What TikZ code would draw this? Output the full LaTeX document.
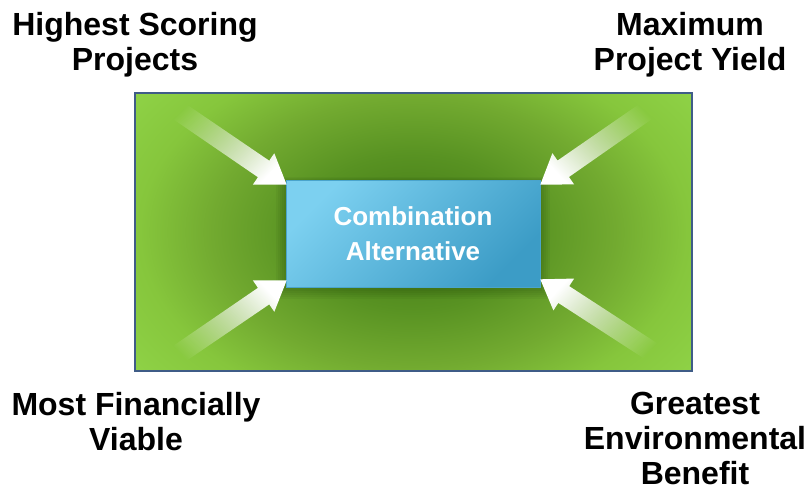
\documentclass[tikz,border=0pt]{standalone}
\usepackage{fontspec}
\setmainfont{Liberation Sans}
\usetikzlibrary{calc,fadings}
\definecolor{gA}{RGB}{66,120,22}
\definecolor{gB}{RGB}{88,146,34}
\definecolor{gC}{RGB}{114,170,48}
\definecolor{gD}{RGB}{134,198,60}
\definecolor{gE}{RGB}{144,212,72}
\definecolor{frameC}{RGB}{63,92,135}
\definecolor{boxL}{RGB}{124,208,240}
\definecolor{boxD}{RGB}{60,156,198}
\definecolor{boxE}{RGB}{74,164,204}
\definecolor{shadowC}{RGB}{20,50,5}
\pgfdeclareradialshading{bgshade}{\pgfpoint{0bp}{0bp}}{color(0bp)=(gA); color(8bp)=(gB); color(14bp)=(gC); color(19bp)=(gD); color(25bp)=(gE); color(50bp)=(gE)}
\tikzfading[name=arrowfade, left color=transparent!100, right color=transparent!0]
\pgfdeclarelayer{bg}
\pgfdeclarelayer{shadowlayer}
\pgfsetlayers{bg,shadowlayer,main}
\newcommand\fatarrow[3]{%
  \fill[white, path fading=arrowfade, fading angle=#3]
   (#2) -- ($(#2)!33.8pt!34.2:(#1)$) -- ($(#2)!29.7pt!19.7:(#1)$) -- ($(#2)!1!4:(#1)$)
   -- ($(#2)!1!-4:(#1)$) -- ($(#2)!29.7pt!-19.7:(#1)$) -- ($(#2)!33.8pt!-34.2:(#1)$) -- cycle;}
\tikzset{
  lab/.style={font=\bfseries\fontsize{32}{35}\selectfont, align=center, anchor=north, inner sep=0pt},
  framebox/.style={minimum width=557pt, minimum height=278pt, inner sep=0pt},
  centerbox/.style={minimum width=254pt, minimum height=107pt, inner sep=0pt,
    top color=boxL, bottom color=boxD, shading angle=45, draw=boxE, line width=0.6pt,
    text=white, font=\bfseries\fontsize{26}{35}\selectfont, align=center}
}
\begin{document}
\begin{tikzpicture}[x=1pt, y=-1pt]
\useasboundingbox (0,0) rectangle (809,496);
\begin{pgfonlayer}{bg}
  \node[framebox] (frame) at (413.5,232) {};
  \begin{scope}
    \clip (frame.north west) rectangle (frame.south east);
    \shade[shading=bgshade] (frame.center) ellipse [x radius=360, y radius=240];
  \end{scope}
  \draw[frameC, line width=2.5pt] (frame.north west) rectangle (frame.south east);
\end{pgfonlayer}
\node[centerbox] (box) at (413,233.5) {Combination\\Alternative};
\begin{pgfonlayer}{shadowlayer}
  \foreach \i in {2,4,...,10}
    \fill[shadowC, opacity=0.05] ($(box.north west)+(-\i,-\i/2+2)$) rectangle ($(box.south east)+(\i,\i+2)$);
\end{pgfonlayer}
\coordinate (tTL) at (170,105);
\coordinate (tTR) at (655,105);
\coordinate (tBL) at (170,360);
\coordinate (tBR) at (660,357);
\coordinate (pTL) at ($(box.north west)+(1,5)$);
\coordinate (pTR) at ($(box.north east)+(0,5)$);
\coordinate (pBL) at ($(box.south west)+(1,-7)$);
\coordinate (pBR) at ($(box.south east)+(0,-8)$);
\fatarrow{tTL}{pTL}{-34.4}
\fatarrow{tTR}{pTR}{-145}
\fatarrow{tBL}{pBL}{34.4}
\fatarrow{tBR}{pBR}{147}
\node[lab] (hs) at (135,12) {Highest Scoring\\Projects};
\node[lab] (my) at (690,12) {Maximum\\Project Yield};
\node[lab] (mf) at (136,392) {Most Financially\\Viable};
\node[lab] (ge) at (695,392) {Greatest\\Environmental\\Benefit};
\end{tikzpicture}
\end{document}
